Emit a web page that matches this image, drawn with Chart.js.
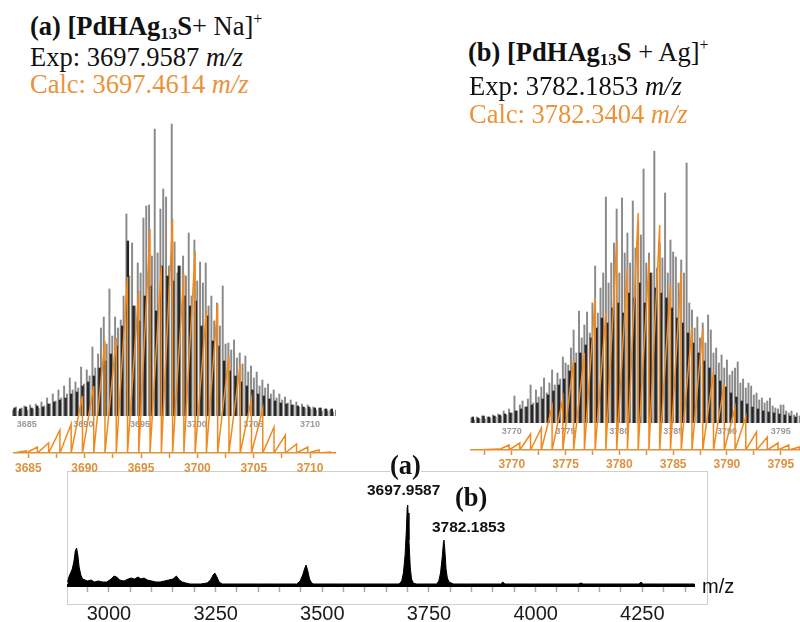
<!DOCTYPE html>
<html>
<head>
<meta charset="utf-8">
<script src="https://cdn.jsdelivr.net/npm/chart.js@4/dist/chart.umd.min.js"></script>
<style>
  html, body { margin:0; padding:0; background:#fff; }
  body { width:800px; height:622px; position:relative; overflow:hidden; }
  canvas { position:absolute; }
  .t { position:absolute; white-space:nowrap; line-height:1; font-family:"Liberation Serif","Times New Roman",serif; font-size:26.5px; color:#111; }
  .sub { font-size:17px; position:relative; top:4px; }
  .sup { font-size:16px; position:relative; top:-11px; }
  .calc { color:#E9933A; }
  .s { position:absolute; white-space:nowrap; line-height:1; font-family:"Liberation Sans",Arial,sans-serif; color:#111; }
  #frame { position:absolute; left:67px; top:471px; width:639px; height:132px; border:1px solid #cfcfcf; }
</style>
</head>
<body>
<div id="frame"></div>
<canvas id="expA" width="324" height="320" style="left:12px;top:116px"></canvas>
<canvas id="calcA" width="324" height="324" style="left:12px;top:153px"></canvas>
<canvas id="expB" width="330" height="320" style="left:470px;top:123px"></canvas>
<canvas id="calcB" width="330" height="324" style="left:470px;top:150px"></canvas>
<canvas id="full" width="628" height="147" style="left:67px;top:475px"></canvas>

<div class="t" style="left:30px;top:13px"><b>(a) [PdHAg<span class="sub">13</span>S</b>+ Na]<span class="sup">+</span></div>
<div class="t" style="left:30px;top:44px">Exp: 3697.9587 <i>m/z</i></div>
<div class="t calc" style="left:30px;top:71px">Calc: 3697.4614 <i>m/z</i></div>

<div class="t" style="left:468px;top:39px"><b>(b) [PdHAg<span class="sub">13</span>S</b> + Ag]<span class="sup">+</span></div>
<div class="t" style="left:469px;top:73px">Exp: 3782.1853 <i>m/z</i></div>
<div class="t calc" style="left:469px;top:101px">Calc: 3782.3404 <i>m/z</i></div>

<div class="t" style="left:390px;top:452px;background:#fff"><b>(a)</b></div>
<div class="t" style="left:455px;top:484px"><b>(b)</b></div>
<div class="s" style="left:367px;top:482px;font-size:15.5px;font-weight:bold">3697.9587</div>
<div class="s" style="left:432px;top:519px;font-size:15.5px;font-weight:bold">3782.1853</div>
<div class="s" style="left:702px;top:576px;font-size:20px">m/z</div>

<script>
// ================= DATA =================
// Panel (a) experimental isotope pattern (sampled every 0.25 m/z from 3683.8)
const expA_start = 3683.8;
const expA_tall = [6,9,5,8, 10,6,11,7, 12,8,14,10, 18,12,22,15, 26,18,30,22, 38,26,34,28, 49,32,46,40,
  69,48,62,88, 99,72,127,80, 99,88,96,120, 202,140,173,110, 153,143,198,210, 211,160,287,163,
  207,227,219,150, 292,174,143,150, 160,140,183,120, 176,135,154,133, 153,110,120,95, 113,90,130,72,
  73,66,76,58, 63,52,60,44, 50,38,44,30, 36,28,32,22, 26,18,22,16, 19,13,16,11, 14,9,12,8,
  11,7,9,6, 8,5,7,5, 6,4,6];
// darker, denser signal (every 0.5 m/z from 3683.925)
const expA_denseStart = 3683.925;
const expA_dense = [8,7,9,8,10,9,12,14,16,18,22,24,30,34,40,48,55,62,70,90,175,110,95,120,130,
  105,150,140,135,150,120,110,115,90,100,75,70,55,45,40,34,30,26,22,20,17,15,13,12,11,10,9,9,8,8,7,7,6];
// Panel (a) calculated isotope peaks
const calcA_mz = [3684.8,3685.8,3686.8,3687.8,3688.8,3689.8,3690.8,3691.8,3692.8,3693.8,3694.8,3695.8,
  3696.8,3697.8,3698.8,3699.8,3700.8,3701.8,3702.8,3703.8,3704.8,3705.8,3706.8,3707.8,3708.8,3709.8,3710.8,3711.8];
const calcA_int = [2,6,10,23,29,57,67,112,115,176,162,224,187,234,179,202,143,149,97,89,54,44,26,18,9,6,3,1];
const ticksA = [3685,3690,3695,3700,3705,3710];

// Panel (b) experimental isotope pattern (every 0.25 m/z from 3766.25)
const expB_start = 3766.25;
const expB_tall = [5,3,6,4, 7,4,6,5, 8,6,9,7, 12,8,14,10, 27,12,18,22, 16,24,38,20, 33,26,36,45,
  30,40,53,38, 50,44,66,60, 58,75,93,70, 112,85,98,111, 90,120,157,110, 135,150,226,140,
  160,180,214,150, 225,170,190,160, 222,175,200,188, 254,160,170,150, 272,155,180,165,
  230,150,183,171, 166,140,163,150, 260,120,113,95, 106,85,100,80, 108,93,70,75, 60,68,55,63,
  48,52,55,61, 40,44,35,40, 37,28,30,23, 25,20,22,25, 17,15,14,18, 18,12,10,12, 8,10,7];
const expB_denseStart = 3766.375;
const expB_dense = [6,5,7,6,7,8,9,10,12,14,16,18,20,24,28,32,38,44,52,60,70,78,85,95,105,100,115,120,
  110,130,125,140,120,150,135,130,125,115,105,100,90,80,70,62,55,48,42,36,30,26,22,19,16,14,12,11,10,9,8,7,6];
const calcB_mz = [3768.75,3769.75,3770.75,3771.75,3772.75,3773.75,3774.75,3775.75,3776.75,3777.75,3778.75,
  3779.75,3780.75,3781.75,3782.75,3783.75,3784.75,3785.75,3786.75,3787.75,3788.75,3789.75,3790.75,
  3791.75,3792.75,3793.75,3794.75,3795.75,3796.75];
const calcB_int = [1,5,7,16,22,43,51,90,97,152,137,208,182,237,189,225,166,179,123,121,78,66,42,33,18,13,7,5,3];
const ticksB = [3770,3775,3780,3785,3790,3795];

// Full-range spectrum
const specMz = [2903,2906,2910,2914,2918,2921,2924,2927,2930,2934,2938,2944,2950,2958,2966,2975,2985,2995,
  3005,3012,3018,3025,3035,3045,3052,3060,3068,3075,3082,3090,3100,3110,3120,3130,3140,3150,3158,3165,
  3172,3180,3190,3200,3215,3230,3238,3244,3248,3253,3258,3265,3300,3350,3400,3440,3448,3454,3459,3462,
  3466,3470,3475,3480,3550,3650,3680,3686,3690,3694,3697,3699,3700,3701,3703,3706,3709,3713,3720,
  3768,3773,3777,3781,3784,3785,3787,3790,3793,3797,3802,3808,3850,3918,3923,3928,4000,4100,4106,4112,
  4200,4242,4247,4252,4300,4372];
const specInt = [3,8,12,16,24,34,37,30,18,10,6,5,4,5,3,4,3,3,
  6,9,8,5,4,6,7,6,8,6,7,5,4,3,3,4,5,6,9,5,
  3,2,1,1,1,2,5,10,12,8,3,1,1,1,1,1,4,10,17,20,
  14,6,2,1,1,1,1,4,12,30,55,78,80,72,45,18,6,2,1,
  1,4,12,28,43,45,36,16,7,3,2,1,1,1,3,1,1,1,2,1,
  1,1,3,1,1,1];
const ticksFull = [3000,3250,3500,3750,4000,4250];

// ================= CHARTS =================
Chart.defaults.animation = false;
Chart.defaults.events = [];
Chart.defaults.plugins.legend.display = false;
Chart.defaults.plugins.tooltip.enabled = false;
Chart.defaults.font.family = '"Liberation Sans", Arial, sans-serif';

const ORANGE_LINE = '#F08A1E';
const ORANGE_AXIS = '#DC923F';

function series(start, step, vals) {
  return vals.map((v, i) => ({ x: start + i * step, y: v }));
}
function sawtooth(mz, inten, x0, x1) {
  const pts = [{ x: x0, y: 0 }];
  mz.forEach((m, i) => { pts.push({ x: m, y: inten[i] }); pts.push({ x: m, y: 0 }); });
  pts.push({ x: x1, y: 0 });
  return pts;
}

function expChart(id, start, tall, dStart, dense, min, max, labels) {
  new Chart(document.getElementById(id), {
    type: 'bar',
    data: { datasets: [
      { data: series(dStart, 0.5, dense), backgroundColor: '#262626', barThickness: 1.8, grouped: false, order: 0 },
      { data: series(start, 0.25, tall), backgroundColor: '#8a8a8a', barThickness: 1.3, grouped: false, order: 1 }
    ]},
    options: {
      responsive: false,
      layout: { padding: 0 },
      scales: {
        x: {
          type: 'linear', min: min, max: max, offset: false,
          grid: { display: false, drawTicks: false, offset: false },
          border: { display: false },
          ticks: { stepSize: 5, autoSkip: false, maxRotation: 0, includeBounds: false, padding: 3,
                   color: '#9a9a9a', font: { size: 9, weight: 'bold' },
                   callback: v => labels.includes(v) ? String(v) : '' },
          afterFit: s => { s.height = 20; }
        },
        y: { display: false, min: 0, max: 300 }
      }
    }
  });
}

function calcChart(id, mz, inten, x0, x1, min, max, labels, pad) {
  new Chart(document.getElementById(id), {
    type: 'line',
    data: { datasets: [
      { data: sawtooth(mz, inten, x0, x1), borderColor: ORANGE_LINE, borderWidth: 1.5,
        pointRadius: 0, fill: false, tension: 0 }
    ]},
    options: {
      responsive: false,
      layout: { padding: 0 },
      scales: {
        x: {
          type: 'linear', min: min, max: max,
          grid: { display: true, drawOnChartArea: false, drawTicks: true, tickLength: 5,
                  tickColor: ORANGE_AXIS, tickWidth: 1.5 },
          border: { display: true, color: ORANGE_AXIS, width: 1.5 },
          ticks: { stepSize: 2.5, autoSkip: false, maxRotation: 0, includeBounds: false, padding: pad,
                   color: ORANGE_AXIS, font: { size: 12, weight: 'bold' },
                   callback: v => labels.includes(v) ? String(v) : '' },
          afterFit: s => { s.height = 24; }
        },
        y: { display: false, min: 0, max: 300 }
      }
    }
  });
}

expChart('expA', expA_start, expA_tall, expA_denseStart, expA_dense, 3683.70, 3712.30, ticksA);
expChart('expB', expB_start, expB_tall, expB_denseStart, expB_dense, 3766.12, 3796.79, ticksB);
calcChart('calcA', calcA_mz, calcA_int, 3683.70, 3712.30, 3683.70, 3712.30, ticksA, 3);
calcChart('calcB', calcB_mz, calcB_int, 3766.6, 3796.79, 3766.12, 3796.79, ticksB, 2);

new Chart(document.getElementById('full'), {
  type: 'line',
  data: { datasets: [
    { data: specMz.map((m, i) => ({ x: m, y: specInt[i] })), borderColor: '#000', backgroundColor: '#000',
      borderWidth: 1, pointRadius: 0, fill: 'origin', tension: 0 }
  ]},
  options: {
    responsive: false,
    layout: { padding: 0 },
    scales: {
      x: {
        type: 'linear', min: 2901.6, max: 4373.3,
        grid: { display: true, drawOnChartArea: false, drawTicks: true, tickLength: 7,
                tickColor: '#a8a8a8', tickWidth: 1.5 },
        border: { display: true, color: '#000', width: 3 },
        ticks: { stepSize: 50, autoSkip: false, maxRotation: 0, includeBounds: false, padding: 10,
                 color: '#1a1a1a', font: { size: 20 },
                 callback: v => ticksFull.includes(v) ? String(v) : '' },
        afterFit: s => { s.height = 37; }
      },
      y: { display: false, min: 0, max: 110 }
    }
  }
});
</script>
</body>
</html>
